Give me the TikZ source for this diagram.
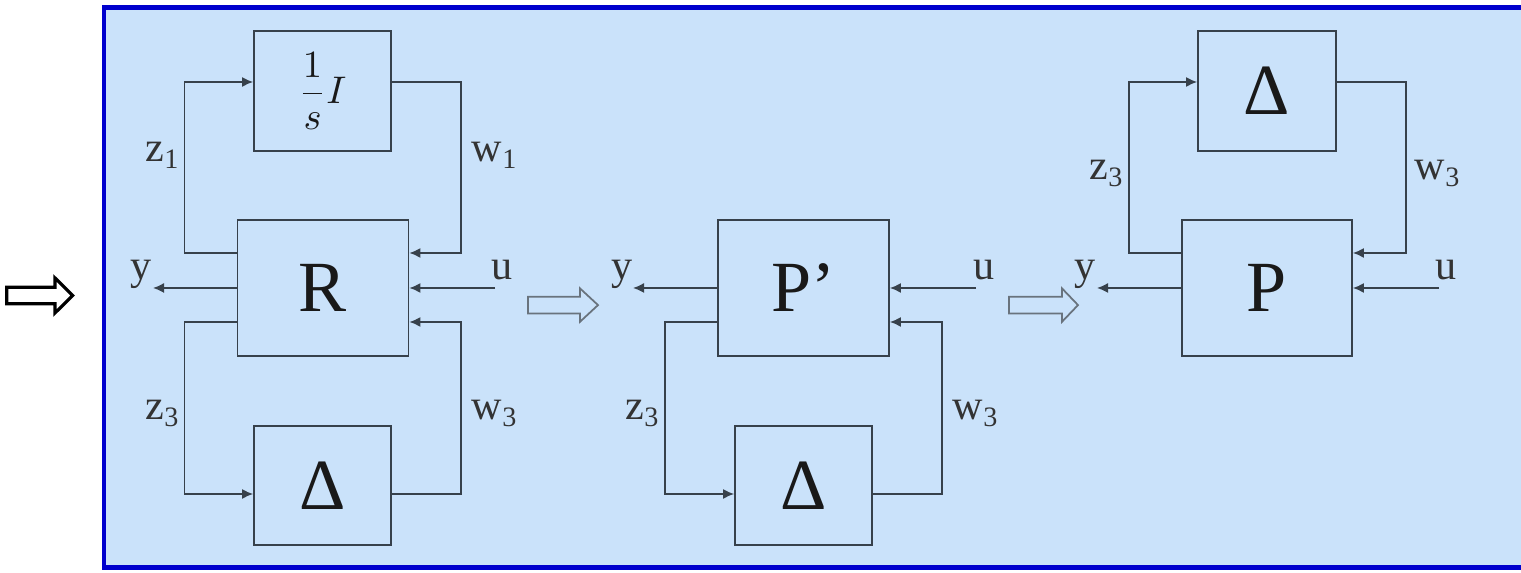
\documentclass[tikz,border=0pt]{standalone}
\usepackage{fontspec}
\setmainfont{LiberationSerif}[Extension=.ttf, UprightFont=*-Regular, ItalicFont=*-Italic, BoldFont=*-Bold]
\usetikzlibrary{arrows.meta}

\definecolor{framec}{RGB}{0,0,205}
\definecolor{paperc}{RGB}{202,226,250}
\definecolor{linec}{RGB}{55,65,75}
\definecolor{hollowc}{RGB}{105,115,125}

\begin{document}
\begin{tikzpicture}[
  blk/.style={
    rectangle, draw=linec, line width=0.5pt,
    minimum width=1.37cm, minimum height=1.2cm,
    inner sep=0pt, align=center, text=black!90,
    font=\fontsize{20.5}{24}\selectfont},
  plant/.style={blk, minimum width=1.71cm, minimum height=1.36cm},
  arr/.style={
    -{Latex[length=1.1mm,width=1mm]},
    draw=linec, line width=0.45pt},
  sig/.style={anchor=base, inner sep=0pt, text=black!80,
    font=\fontsize{12}{14}\selectfont},
  hollow/.style={draw=hollowc, line width=0.5pt, line join=miter},
]
\useasboundingbox (0,0) rectangle (15.21,-5.73);

% frame
\draw[framec, line width=1.3pt, fill=paperc] (1.04,-0.075) rectangle (15.7,-5.675);

% first loop: R with integrator and Delta
\node[blk, font=\fontsize{11}{13}\selectfont] (int) at (3.225,-0.91) {$\displaystyle\frac{1}{s}I$};
\node[plant] (R)  at (3.23,-2.88)  {R};
\node[blk, minimum height=1.19cm] (dl) at (3.225,-4.855) {Δ};

\coordinate (yR) at (1.53,-2.88);
\coordinate (uR) at (4.95,-2.88);

\draw[arr] ([yshift=0.35cm]R.west) -- ++(-0.52,0) |- ([yshift=0.09cm]int.west);
\draw[arr] ([yshift=0.09cm]int.east) -- ++(0.69,0) |- ([yshift=0.35cm]R.east);
\draw[arr] ([yshift=-0.34cm]R.west) -- ++(-0.52,0) |- ([yshift=-0.085cm]dl.west);
\draw[arr] ([yshift=-0.085cm]dl.east) -- ++(0.69,0) |- ([yshift=-0.34cm]R.east);
\draw[arr] (R.west) -- (yR);
\draw[arr] (uR) -- (R.east);

\node[sig] (z1R) at (1.63,-1.62) {z\textsubscript{1}};
\node[sig] (w1R) at (4.95,-1.62) {w\textsubscript{1}};
\node[sig] (yRl) at (1.41,-2.80) {y};
\node[sig] (uRl) at (5.02,-2.80) {u};
\node[sig] (z3R) at (1.63,-4.20) {z\textsubscript{3}};
\node[sig] (w3R) at (4.95,-4.20) {w\textsubscript{3}};

% second loop: P' with Delta
\node[plant] (Pp) at (8.035,-2.88) {P’};
\node[blk, minimum height=1.19cm] (dm) at (8.035,-4.855) {Δ};

\coordinate (yP) at (6.33,-2.88);
\coordinate (uP) at (9.76,-2.88);

\draw[arr] ([yshift=-0.34cm]Pp.west) -- ++(-0.52,0) |- ([yshift=-0.085cm]dm.west);
\draw[arr] ([yshift=-0.085cm]dm.east) -- ++(0.69,0) |- ([yshift=-0.34cm]Pp.east);
\draw[arr] (Pp.west) -- (yP);
\draw[arr] (uP) -- (Pp.east);

\node[sig] (yPl) at (6.22,-2.80) {y};
\node[sig] (uPl) at (9.84,-2.80) {u};
\node[sig] (z3P) at (6.43,-4.20) {z\textsubscript{3}};
\node[sig] (w3P) at (9.76,-4.20) {w\textsubscript{3}};

% third loop: P with Delta on top
\node[blk, minimum width=1.38cm] (dr) at (12.67,-0.91) {Δ};
\node[plant, minimum width=1.70cm] (P) at (12.67,-2.88) {P};

\coordinate (yQ) at (10.97,-2.88);
\coordinate (uQ) at (14.39,-2.88);

\draw[arr] ([yshift=0.35cm]P.west) -- ++(-0.52,0) |- ([yshift=0.09cm]dr.west);
\draw[arr] ([yshift=0.09cm]dr.east) -- ++(0.69,0) |- ([yshift=0.35cm]P.east);
\draw[arr] (P.west) -- (yQ);
\draw[arr] (uQ) -- (P.east);

\node[sig] (z3Q) at (11.07,-1.80) {z\textsubscript{3}};
\node[sig] (w3Q) at (14.38,-1.80) {w\textsubscript{3}};
\node[sig] (yQl) at (10.85,-2.80) {y};
\node[sig] (uQl) at (14.46,-2.80) {u};

% hollow arrows
\draw[hollow, draw=black, fill=white, line width=0.9pt]
  (0.067,-2.872) -- ++(0.483,0) -- ++(0,0.092) -- ++(0.177,-0.175)
  -- ++(-0.177,-0.175) -- ++(0,0.092) -- ++(-0.483,0) -- cycle;
\draw[hollow]
  (5.28,-2.967) -- ++(0.52,0) -- ++(0,0.083) -- ++(0.18,-0.167)
  -- ++(-0.18,-0.167) -- ++(0,0.083) -- ++(-0.52,0) -- cycle;
\draw[hollow]
  (10.09,-2.967) -- ++(0.53,0) -- ++(0,0.083) -- ++(0.16,-0.167)
  -- ++(-0.16,-0.167) -- ++(0,0.083) -- ++(-0.53,0) -- cycle;

\end{tikzpicture}
\end{document}
